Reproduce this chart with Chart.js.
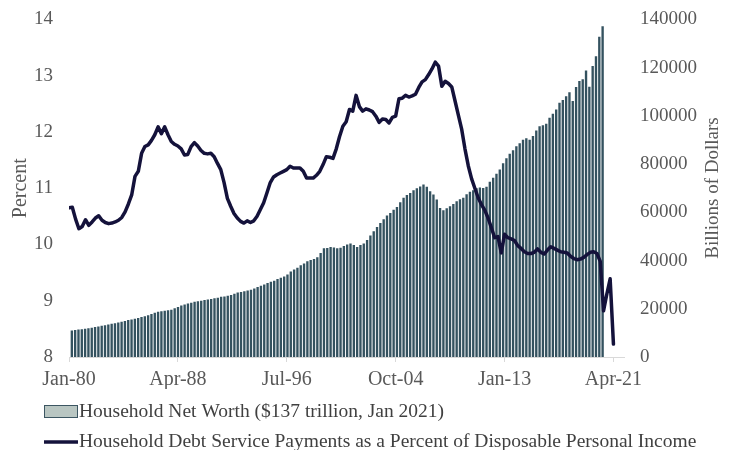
<!DOCTYPE html>
<html>
<head>
<meta charset="utf-8">
<title>Household Net Worth and Debt Service</title>
<script src="https://cdn.jsdelivr.net/npm/chart.js@4.4.1/dist/chart.umd.min.js"></script>
<style>
  html, body { margin: 0; padding: 0; background: #fff; }
  #wrap { width: 737px; height: 450px; }
</style>
</head>
<body>
<div id="wrap"><canvas id="chart" width="737" height="450"></canvas></div>
<script>
// quarter ticks on the debt-service axis (every 33 quarters from Q1 1980)
const tickLabels = ['Jan-80', 'Apr-88', 'Jul-96', 'Oct-04', 'Jan-13', 'Apr-21'];

const seriesNames = [
  'Household Net Worth ($137 trillion, Jan 2021)',
  'Household Debt Service Payments as a Percent of Disposable Personal Income'
];

// debt service ratio, %, quarterly from Q1 1980
const debtService = [
  10.65, 10.66, 10.45, 10.28, 10.32, 10.44, 10.34, 10.40, 10.47, 10.51,
  10.43, 10.39, 10.37, 10.38, 10.40, 10.43, 10.48, 10.58, 10.72, 10.88,
  11.21, 11.30, 11.62, 11.74, 11.77, 11.85, 11.95, 12.09, 11.97, 12.09,
  11.95, 11.83, 11.78, 11.75, 11.70, 11.59, 11.60, 11.74, 11.81, 11.75,
  11.67, 11.62, 11.61, 11.62, 11.56, 11.44, 11.33, 11.10, 10.82, 10.68,
  10.55, 10.47, 10.41, 10.38, 10.42, 10.39, 10.42, 10.50, 10.62, 10.74,
  10.92, 11.10, 11.20, 11.24, 11.27, 11.30, 11.33, 11.39, 11.36, 11.36,
  11.36, 11.30, 11.18, 11.18, 11.18, 11.23, 11.30, 11.42, 11.56, 11.55,
  11.53, 11.70, 11.92, 12.10, 12.18, 12.40, 12.37, 12.65, 12.45, 12.37,
  12.41, 12.39, 12.36, 12.28, 12.17, 12.23, 12.22, 12.16, 12.26, 12.28,
  12.59, 12.60, 12.65, 12.62, 12.64, 12.67, 12.79, 12.89, 12.93, 13.02,
  13.12, 13.24, 13.17, 12.81, 12.90, 12.86, 12.80, 12.55, 12.30, 12.05,
  11.70, 11.40, 11.17, 11.00, 10.83, 10.71, 10.61, 10.47, 10.30, 10.12,
  10.14, 9.85, 10.18, 10.12, 10.10, 10.07, 9.98, 9.93, 9.87, 9.84,
  9.84, 9.86, 9.92, 9.86, 9.83, 9.90, 9.96, 9.93, 9.90, 9.87,
  9.86, 9.85, 9.79, 9.75, 9.73, 9.74, 9.77, 9.82, 9.86, 9.87,
  9.84, 9.70, 8.82, 9.12, 9.39, 8.23
];

// household net worth, billions of dollars, quarterly, last value Q1 2021
const netWorth = [
  10900, 11100, 11300, 11400, 11600, 11800, 12000, 12300, 12500, 12800,
  13000, 13300, 13600, 13900, 14200, 14500, 14800, 15200, 15400, 15700,
  16000, 16500, 16800, 17200, 17700, 18200, 18600, 18800, 19000, 19300,
  19500, 20100, 20600, 21200, 21600, 22000, 22400, 22800, 23000, 23200,
  23500, 23700, 23900, 24200, 24400, 24800, 25000, 25300, 25600, 26100,
  26600, 26800, 27100, 27400, 27700, 28300, 28900, 29400, 29900, 30500,
  31100, 31500, 32200, 32700, 33200, 34100, 35300, 36100, 36900, 37900,
  38600, 39600, 40100, 40500, 41200, 43000, 45000, 45100, 45500, 45300,
  45000, 45200, 45900, 46500, 46900, 46300, 45500, 46300, 46900, 48400,
  50200, 52000, 53800, 55400, 57000, 58500, 59600, 60900, 62100, 64000,
  65900, 67000, 67900, 69000, 69800, 70600, 71400, 70500, 68600, 67200,
  65200, 61700, 60700, 61600, 62400, 63300, 64500, 65300, 65900, 67400,
  68400, 69000, 69800, 70200, 69900, 70500, 72500, 74200, 75900, 77600,
  80200, 82300, 84200, 85600, 87300, 88500, 90000, 90600, 90000, 91500,
  93800, 95600, 96000, 96600, 99100, 100700, 102500, 105300, 106400, 108000,
  109700, 106000, 111800, 114300, 115000, 118700, 111900, 120500, 124600, 132700,
  137000
];

const FONT = '"Liberation Serif", "Times New Roman", serif';
const NAVY = '#14123b';
const SLATE = '#34525f';
const GREY_TEXT = '#595959';

// legend rows under the axis, plus the right-hand axis title read bottom-to-top
const extrasPlugin = {
  id: 'extras',
  afterDraw(chart) {
    const ctx = chart.ctx;
    ctx.save();
    ctx.font = '19.5px ' + FONT;
    ctx.textBaseline = 'middle';
    ctx.textAlign = 'left';

    // bars swatch
    ctx.fillStyle = '#b9c6c2';
    ctx.fillRect(44.5, 405.5, 33, 12);
    ctx.strokeStyle = '#3c5662';
    ctx.lineWidth = 1;
    ctx.strokeRect(44.5, 405.5, 33, 12);
    ctx.fillStyle = '#404040';
    ctx.fillText(seriesNames[0], 79, 412);

    // line swatch
    ctx.strokeStyle = NAVY;
    ctx.lineWidth = 3.5;
    ctx.beginPath();
    ctx.moveTo(44, 442);
    ctx.lineTo(78, 442);
    ctx.stroke();
    ctx.fillText(seriesNames[1], 79, 442);

    // right axis title
    ctx.font = '19px ' + FONT;
    ctx.translate(713, 188);
    ctx.rotate(-Math.PI / 2);
    ctx.textAlign = 'center';
    ctx.fillStyle = GREY_TEXT;
    ctx.fillText('Billions of Dollars', 0, 0);
    ctx.restore();
  }
};

const ctx = document.getElementById('chart').getContext('2d');
new Chart(ctx, {
  type: 'bar',
  data: {
    datasets: [
      {
        type: 'line',
        label: seriesNames[1],
        data: debtService.map((v, i) => ({ x: i, y: v })),
        xAxisID: 'x',
        yAxisID: 'y',
        borderColor: NAVY,
        borderWidth: 3.5,
        borderJoinStyle: 'round',
        borderCapStyle: 'round',
        pointRadius: 0,
        tension: 0,
        order: 0
      },
      {
        type: 'bar',
        label: seriesNames[0],
        data: netWorth.map((v, i) => ({ x: i, y: v })),
        xAxisID: 'x2',
        yAxisID: 'y2',
        backgroundColor: SLATE,
        borderWidth: 0,
        barThickness: 1.7,
        order: 1
      }
    ]
  },
  options: {
    responsive: false,
    animation: false,
    layout: { padding: { top: 0, right: 0, bottom: 61, left: 0 } },
    plugins: {
      legend: { display: false },
      tooltip: { enabled: false }
    },
    scales: {
      x: {
        type: 'linear',
        position: 'bottom',
        min: 0,
        max: 168.2,
        offset: false,
        grid: {
          display: true,
          offset: false,
          drawOnChartArea: false,
          drawTicks: true,
          tickLength: 5,
          color: '#d9d9d9'
        },
        border: { display: true, color: '#d9d9d9', width: 1 },
        ticks: {
          stepSize: 33,
          includeBounds: false,
          autoSkip: false,
          maxRotation: 0,
          padding: 6,
          color: GREY_TEXT,
          font: { family: FONT, size: 20 },
          callback: v => tickLabels[Math.round(v / 33)] || ''
        },
        afterFit: s => { s.height = 32; }
      },
      x2: {
        type: 'linear',
        display: false,
        min: -0.6,
        max: 166.7,
        offset: false,
        grid: { offset: false }
      },
      y: {
        position: 'left',
        min: 8,
        max: 14,
        // hidden tick marks still push the labels away from the plot
        grid: { display: false, drawTicks: true, tickLength: 8 },
        border: { display: false },
        ticks: {
          stepSize: 1,
          padding: 8,
          color: GREY_TEXT,
          font: { family: FONT, size: 19 }
        },
        title: {
          display: true,
          text: 'Percent',
          color: GREY_TEXT,
          font: { family: FONT, size: 20 },
          padding: { top: 9, bottom: 0 }
        },
        afterFit: s => { s.width = 69; }
      },
      y2: {
        position: 'right',
        min: 0,
        max: 140000,
        grid: { display: false, drawTicks: true, tickLength: 8 },
        border: { display: false },
        ticks: {
          stepSize: 20000,
          padding: 8,
          color: GREY_TEXT,
          font: { family: FONT, size: 19 },
          callback: v => String(v)
        },
        afterFit: s => { s.width = 113; }
      }
    }
  },
  plugins: [extrasPlugin]
});
</script>
</body>
</html>
